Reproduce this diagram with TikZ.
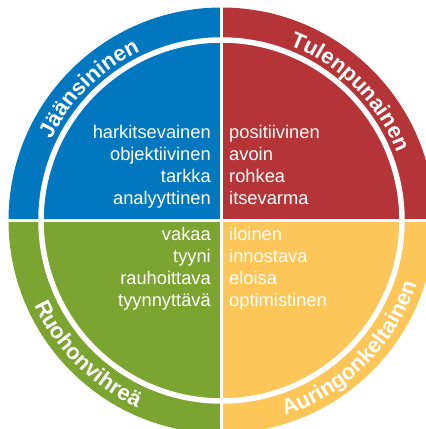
\documentclass[tikz,border=0pt]{standalone}
\usepackage{fontspec}
\setmainfont{Liberation Sans}
\usetikzlibrary{decorations.text}
\definecolor{jaa}{RGB}{0,119,190}
\definecolor{tuli}{RGB}{180,52,55}
\definecolor{ruoho}{RGB}{124,164,49}
\definecolor{aurinko}{RGB}{253,198,89}

\begin{document}
\begin{tikzpicture}[x=1pt,y=1pt,
	word/.style={text=white, font=\fontsize{18.3}{22}\selectfont, inner sep=0pt},
	ringlabel/.style={decorate, decoration={text along path, text align=center, text color=white,
		text={|\bfseries\fontsize{22}{22}\selectfont|#1}}},
	divider/.style={white, line width=3pt}]
		\useasboundingbox (-221.5,-208.5) rectangle (204.5,220.5);
		\clip (-221.5,-208.5) rectangle (204.5,220.5);

		% quadrants
		\fill[jaa] (0,0) -- (180:213) arc (180:90:213) -- cycle;
		\fill[tuli] (0,0) -- (90:213) arc (90:0:213) -- cycle;
		\fill[ruoho] (0,0) -- (180:213) arc (180:270:213) -- cycle;
		\fill[aurinko] (0,0) -- (270:213) arc (270:360:213) -- cycle;

		\draw[divider, line width=5.5pt] (0,0) circle (180.5);
		\draw[divider] (-215,0) -- (215,0);
		\draw[divider] (0,-215) -- (0,215);

		% names on the ring
		\path[ringlabel=Jäänsininen] (180:188) arc (180:90:188);
		\path[ringlabel=Tulenpunainen] (90:188) arc (90:0:188);
		\path[ringlabel=Ruohonvihreä] (180:205) arc (180:270:205);
		\path[ringlabel=Auringonkeltainen] (270:205) arc (270:360:205);

		% words
		\foreach \w [count=\i] in {harkitsevainen,objektiivinen,tarkka,analyyttinen}
			\node[word, anchor=base east] (jaa\i) at (-10.5,104.5-22*\i) {\w};
		\foreach \w [count=\i] in {positiivinen,avoin,rohkea,itsevarma}
			\node[word, anchor=base west] (tuli\i) at (7.5,104.5-22*\i) {\w};
		\foreach \w [count=\i] in {vakaa,tyyni,rauhoittava,tyynnyttävä}
			\node[word, anchor=base east] (ruoho\i) at (-10.5,2.5-22*\i) {\w};
		\foreach \w [count=\i] in {iloinen,innostava,eloisa,optimistinen}
			\node[word, anchor=base west] (aurinko\i) at (7.5,2.5-22*\i) {\w};
\end{tikzpicture}
\end{document}
